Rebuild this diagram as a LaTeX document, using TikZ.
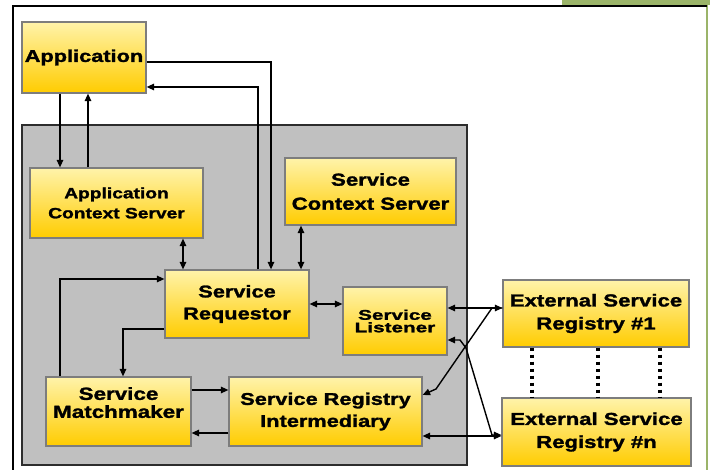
\documentclass[tikz,border=0pt]{standalone}
\usepackage{fontspec}
\usepackage{tikz}
\usetikzlibrary{arrows.meta}
\newfontfamily\boxfont[FakeStretch=1.28, FakeBold=1.6]{Liberation Sans}
\newfontfamily\smallboxfont[FakeStretch=1.48, FakeBold=1.6]{Liberation Sans}
\definecolor{boxtop}{RGB}{255,243,170}
\definecolor{boxbot}{RGB}{255,204,0}
\definecolor{boxedge}{RGB}{125,125,125}
\definecolor{panel}{RGB}{192,192,192}
\definecolor{paneledge}{RGB}{45,45,45}
\definecolor{slidegreen}{RGB}{155,180,105}
\tikzstyle{box}=[draw=boxedge, line width=1.2pt, top color=boxtop, bottom color=boxbot, align=center, inner sep=0pt, font=\boxfont\bfseries\fontsize{17}{22}\selectfont]
\tikzstyle{arr}=[-{Triangle[length=7.5pt,width=6.5pt]}, line width=1.4pt]
\tikzstyle{arrr}=[{Triangle[length=7.5pt,width=6.5pt]}-{Triangle[length=7.5pt,width=6.5pt]}, line width=1.4pt]
\tikzstyle{dots}=[line width=3.2pt, dash pattern=on 3.5pt off 3.5pt]
\begin{document}
\begin{tikzpicture}[x=1pt, y=-1pt]
\useasboundingbox (0,0) rectangle (710,470);

	\fill[slidegreen] (562,0) rectangle (710,5);
	\draw[slidegreen, line width=2pt] (707,0) -- (707,470);
	\draw[line width=2pt] (13,470) -- (13,6) -- (707,6);

	\draw[paneledge, fill=panel, line width=2.5pt] (22,125) rectangle (467,465);

	\node[box, minimum width=124, minimum height=71] (app) at (84,57.5) {Application};
	\node[box, minimum width=173, minimum height=70, font=\boxfont\bfseries\fontsize{15}{20}\selectfont] (acs) at (116.5,203) {Application\\Context Server};
	\node[box, minimum width=171, minimum height=67, font=\boxfont\bfseries\fontsize{17.3}{24}\selectfont] (scs) at (370.5,191.5) {Service\\Context Server};
	\node[box, minimum width=144, minimum height=68] (req) at (237,304) {Service\\Requestor};
	\node[box, minimum width=104, minimum height=68, font=\smallboxfont\bfseries\fontsize{14}{12.5}\selectfont] (lis) at (395,321) {Service\\Listener};
	\node[box, minimum width=145, minimum height=69, font=\boxfont\bfseries\fontsize{17.5}{18}\selectfont] (mm) at (118.5,411.5) {Service\\Matchmaker\\\mbox{}};
	\node[box, minimum width=193, minimum height=69] (sri) at (325.5,411.5) {Service Registry\\Intermediary};
	\node[box, minimum width=186, minimum height=67, font=\boxfont\bfseries\fontsize{17.3}{23}\selectfont] (ext1) at (596,313.5) {External Service\\Registry \#1};
	\node[box, minimum width=189, minimum height=68, font=\boxfont\bfseries\fontsize{17.3}{23}\selectfont] (extn) at (596.5,432) {External Service\\Registry \#n};

	\draw[arr] (app.south -| 60,0) -- (acs.north -| 60,0);
	\draw[arr] (acs.north -| 88,0) -- (app.south -| 88,0);
	\draw[arr] (app.east |- 0,62) -| (req.north -| 271,0);
	\draw[arr] (req.north -| 258,0) |- (app.east |- 0,87);
	\draw[arrr] (acs.south -| 183,0) -- (req.north -| 183,0);
	\draw[arrr] (scs.south -| 301,0) -- (req.north -| 301,0);
	\draw[arrr] (req.east |- 0,304) -- (lis.west |- 0,304);
	\draw[arr] (req.west |- 0,329) -| (mm.north -| 123,0);
	\draw[arr] (mm.north -| 60,0) |- (req.west |- 0,279);
	\draw[arr] (mm.east |- 0,390) -- (sri.west |- 0,390);
	\draw[arr] (sri.west |- 0,433) -- (mm.east |- 0,433);

	\draw[arrr] (lis.east |- 0,308) -- (ext1.west |- 0,308);
	\draw[arr] (ext1.west |- 0,308) -- (492,308) -- (436,389) -- (sri.east |- 0,395);
	\draw[arrr] (lis.east |- 0,340) -- (460,340) -- (466,348) -- (492,435) -- (extn.west |- 0,435);
	\draw[arrr] (sri.east |- 0,436) -- (extn.west |- 0,436);

	\foreach \x in {532,598,660}{
		\draw[dots] (ext1.south -| \x,0) -- (extn.north -| \x,0);
	}

\end{tikzpicture}
\end{document}
